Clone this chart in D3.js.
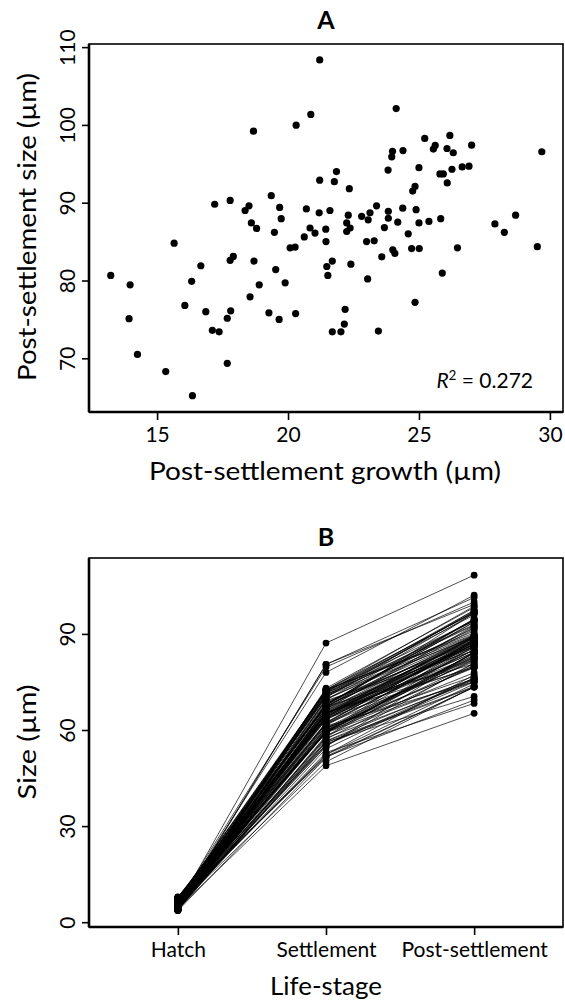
<!DOCTYPE html>
<html>
<head>
<meta charset="utf-8">
<script src="https://cdn.jsdelivr.net/npm/d3@7"></script>
<style>
  body { margin: 0; background: #fff; }
  svg text { font-family: Lato, "Open Sans", sans-serif; fill: #000; }
</style>
</head>
<body>
<div id="chart"></div>
<script>
// panel A: post-settlement growth vs post-settlement size (one per fish)
var growth = [
  21.21, 20.87, 20.31, 18.68, 21.21, 17.2, 17.79, 19.36, 18.51, 18.36,
  19.68, 19.74, 20.70, 21.19, 18.6, 18.8, 19.48, 20.84, 21.03, 21.44,
  24.13, 25.22, 26.18, 27.01, 29.69, 25.62, 25.55, 26.07, 26.31, 23.99,
  23.96, 24.39, 23.82, 25.0, 25.8, 25.93, 26.26, 26.65, 26.91, 26.08,
  21.85, 21.77, 22.34, 24.85, 24.76, 21.6, 22.3, 22.24, 22.37, 22.24,
  24.38, 24.89, 24.19, 25.0, 25.38, 25.83, 27.9, 28.69, 28.26, 29.52,
  26.47, 24.72, 25.01, 24.59, 23.68, 23.0, 23.29, 24.0, 24.08, 23.58,
  22.40, 21.69, 21.48, 21.52, 23.04, 25.89, 24.85, 22.18, 22.15, 22.02,
  21.69, 23.45, 23.38, 23.13, 22.81, 23.06, 23.83, 23.83, 21.45, 20.62,
  20.08, 20.27, 17.91, 17.79, 18.70, 19.53, 18.9, 19.89, 15.65, 13.23,
  13.97, 13.93, 14.25, 15.33, 16.35, 16.32, 16.67, 16.06, 16.86, 17.11,
  17.37, 17.68, 17.81, 17.68, 18.55, 19.27, 19.66, 20.29
];
var postSize = [
  108.35, 101.35, 99.97, 99.2, 92.9, 89.8, 90.3, 90.9, 89.6, 89.0,
  89.4, 87.95, 89.2, 88.7, 87.4, 86.7, 86.2, 86.75, 86.1, 86.6,
  102.1, 98.26, 98.65, 97.4, 96.55, 97.36, 96.9, 96.97, 96.42, 96.6,
  95.9, 96.7, 94.2, 94.5, 93.7, 93.7, 94.3, 94.6, 94.7, 92.55,
  94.0, 92.7, 91.8, 92.1, 91.5, 89.0, 88.4, 87.4, 86.75, 86.3,
  89.3, 89.1, 87.5, 87.4, 87.6, 87.95, 87.27, 88.4, 86.2, 84.35,
  84.2, 84.1, 84.1, 86.0, 86.8, 85.0, 85.1, 83.95, 83.5, 83.05,
  82.1, 82.5, 81.8, 80.65, 80.2, 80.95, 77.2, 76.3, 74.4, 73.4,
  73.4, 73.5, 89.6, 88.7, 88.25, 87.8, 88.9, 88.0, 85.0, 85.6,
  84.2, 84.3, 83.1, 82.6, 82.5, 81.4, 79.45, 79.7, 84.8, 80.65,
  79.45, 75.1, 70.5, 68.3, 65.2, 79.9, 81.9, 76.8, 76.0, 73.6,
  73.4, 75.15, 76.1, 69.35, 77.9, 75.85, 75.0, 75.75
];
// panel B: size at settlement and at hatch, same fish order
var settleSize = [
  87.14, 80.48, 79.66, 80.52, 71.69, 72.6, 72.51, 71.54, 71.09, 70.64,
  69.72, 68.21, 68.5, 67.51, 68.8, 67.9, 66.72, 65.91, 65.07, 65.16,
  77.97, 73.04, 72.47, 70.39, 66.86, 71.74, 71.35, 70.9, 70.11, 72.61,
  71.94, 72.31, 70.38, 69.5, 67.9, 67.77, 68.04, 67.95, 67.79, 66.47,
  72.15, 70.93, 69.46, 67.25, 66.74, 67.4, 66.1, 65.16, 64.38, 64.06,
  64.92, 64.21, 63.31, 62.4, 62.22, 62.12, 59.37, 59.71, 57.94, 54.83,
  57.73, 59.38, 59.09, 61.41, 63.12, 62.0, 61.81, 59.95, 59.42, 59.47,
  59.7, 60.81, 60.32, 59.13, 57.16, 55.06, 52.35, 54.12, 52.25, 51.38,
  51.71, 50.05, 66.22, 65.57, 65.44, 64.74, 65.07, 64.17, 63.55, 64.98,
  64.12, 64.03, 65.19, 64.81, 63.8, 61.87, 60.55, 59.81, 69.15, 67.42,
  65.48, 61.17, 56.25, 52.97, 48.85, 63.58, 65.23, 60.74, 59.14, 56.49,
  56.03, 57.47, 58.29, 51.67, 59.35, 56.58, 55.34, 55.46
];
var hatchSize = [
  5.2, 4.6, 6.3, 4.1, 5.8, 3.7, 6.9, 5.0, 4.4, 7.4,
  5.6, 4.9, 3.9, 6.0, 5.3, 7.8, 4.3, 5.1, 6.6, 4.7,
  5.9, 3.6, 5.4, 6.2, 4.0, 7.1, 5.0, 4.5, 6.8, 5.7,
  4.2, 5.5, 6.4, 3.8, 5.2, 7.6, 4.8, 6.1, 5.3, 4.4,
  6.7, 5.0, 3.9, 5.8, 4.6, 7.2, 5.4, 4.1, 6.0, 5.1,
  4.9, 6.5, 3.7, 5.6, 4.3, 7.0, 5.2, 6.3, 4.7, 5.9,
  4.0, 6.9, 5.3, 4.5, 7.9, 5.1, 4.2, 6.1, 5.7, 3.8,
  6.4, 4.8, 5.5, 7.3, 4.1, 5.0, 6.2, 4.6, 5.8, 3.6,
  6.6, 5.2, 4.4, 7.5, 5.6, 4.0, 6.0, 5.3, 4.9, 6.8,
  3.9, 5.4, 7.7, 4.5, 5.9, 6.3, 4.2, 5.1, 7.0, 4.7,
  5.7, 6.5, 3.8, 5.0, 4.3, 6.7, 5.5, 4.8, 7.2, 6.1,
  4.6, 5.3, 3.7, 6.4, 5.8, 4.1, 7.6, 5.2
];
var stages = ["Hatch", "Settlement", "Post-settlement"];
var ticksAx = [15, 20, 25, 30];
var ticksAy = [70, 80, 90, 100, 110];
var ticksBy = [0, 30, 60, 90];
var r2Label = "0.272";

var W = 565, H = 1006;
var left = 89, right = 563;

var svg = d3.select("#chart").append("svg")
  .attr("width", W)
  .attr("height", H);

// R-like frame: box, heavier left/bottom axis lines, rotated y tick labels
function frame(g, x, y, top, bottom, xTicks, yTicks, xFormat) {
  g.append("rect")
    .attr("x", left).attr("y", top)
    .attr("width", right - left).attr("height", bottom - top)
    .attr("fill", "none").attr("stroke", "#000").attr("stroke-width", 1.6);
  g.append("line").attr("x1", left).attr("x2", left).attr("y1", top).attr("y2", bottom)
    .attr("stroke", "#000").attr("stroke-width", 2.6);
  g.append("line").attr("x1", left).attr("x2", right).attr("y1", bottom).attr("y2", bottom)
    .attr("stroke", "#000").attr("stroke-width", 2.6);

  var xa = g.append("g")
    .attr("transform", "translate(0," + bottom + ")")
    .call(d3.axisBottom(x).tickValues(xTicks).tickSize(8).tickPadding(7).tickFormat(xFormat));
  xa.select(".domain").remove();
  xa.selectAll(".tick line").attr("stroke-width", 1.6);
  xa.selectAll(".tick text").attr("font-size", 21).attr("font-family", null);

  var ya = g.append("g")
    .attr("transform", "translate(" + left + ",0)")
    .call(d3.axisLeft(y).tickValues(yTicks).tickSize(7));
  ya.select(".domain").remove();
  ya.selectAll(".tick line").attr("stroke-width", 1.6);
  ya.selectAll(".tick text")
    .attr("font-size", 21).attr("font-family", null)
    .attr("x", null).attr("dy", null)
    .attr("text-anchor", "middle")
    .attr("transform", "translate(-14,0) rotate(-90)");
}

function axisTitle(g, x, y, rot, len, txt) {
  g.append("text")
    .attr("transform", "translate(" + x + "," + y + ")" + (rot ? " rotate(-90)" : ""))
    .attr("text-anchor", "middle")
    .attr("font-size", 25)
    .attr("textLength", len)
    .attr("lengthAdjust", "spacingAndGlyphs")
    .text(txt);
}

// ---- panel A ----
var gA = svg.append("g");
var xA = d3.scaleLinear().domain([12.4, 30.5]).range([left, right]);
var yA = d3.scaleLinear().domain([63.1, 110.4]).range([412, 44]);

frame(gA, xA, yA, 44, 412, ticksAx, ticksAy, d3.format("d"));

gA.selectAll("circle.pt")
  .data(growth)
  .enter().append("circle")
    .attr("class", "pt")
    .attr("cx", function(d) { return xA(d); })
    .attr("cy", function(d, i) { return yA(postSize[i]); })
    .attr("r", 3.6)
    .attr("fill", "#000");

gA.append("text")
  .attr("x", (left + right) / 2).attr("y", 29)
  .attr("text-anchor", "middle")
  .attr("font-size", 25).attr("font-weight", "bold")
  .text("A");

axisTitle(gA, 325, 480, false, 352, "Post-settlement growth (\u00b5m)");
axisTitle(gA, 36, 227, true, 308, "Post-settlement size (\u00b5m)");

var r2 = gA.append("text")
  .attr("x", 533).attr("y", 388)
  .attr("text-anchor", "end")
  .attr("font-size", 21);
r2.append("tspan").attr("font-style", "italic").text("R");
r2.append("tspan").attr("font-size", 13).attr("dy", -8).text("2");
r2.append("tspan").attr("dy", 8).text(" = " + r2Label);

// ---- panel B ----
var gB = svg.append("g");
var xB = d3.scaleLinear().domain([0.4, 3.6]).range([left, right]);
var yB = d3.scaleLinear().domain([-1.5, 113.7]).range([927, 558]);

frame(gB, xB, yB, 558, 927, [1, 2, 3], ticksBy, function(d) { return stages[d - 1]; });

var fish = hatchSize.map(function(h, i) { return [h, settleSize[i], postSize[i]]; });

var line = d3.line()
  .x(function(d, j) { return xB(j + 1); })
  .y(function(d) { return yB(d); });

gB.append("g").selectAll("path")
  .data(fish)
  .enter().append("path")
    .attr("d", line)
    .attr("fill", "none")
    .attr("stroke", "#000")
    .attr("stroke-width", 0.7);

gB.append("g").selectAll("g")
  .data(fish)
  .enter().append("g")
  .selectAll("circle")
  .data(function(d) { return d; })
  .enter().append("circle")
    .attr("cx", function(d, j) { return xB(j + 1); })
    .attr("cy", function(d) { return yB(d); })
    .attr("r", 3.4)
    .attr("fill", "#000");

gB.append("text")
  .attr("x", (left + right) / 2).attr("y", 546)
  .attr("text-anchor", "middle")
  .attr("font-size", 25).attr("font-weight", "bold")
  .text("B");

axisTitle(gB, 326, 995, false, 112, "Life-stage");
axisTitle(gB, 36, 742, true, 115, "Size (\u00b5m)");
</script>
</body>
</html>
